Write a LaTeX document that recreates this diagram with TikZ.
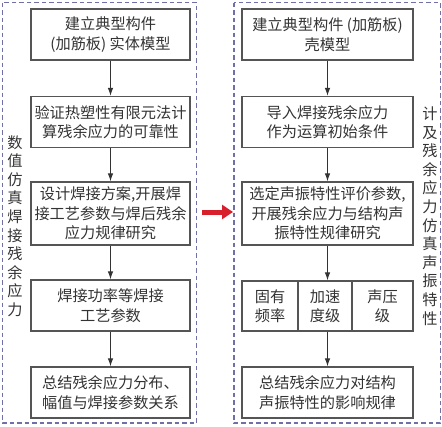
\documentclass[tikz,border=0pt]{standalone}
\usepackage{fontspec}
\setmainfont{Noto Sans CJK SC}
\usetikzlibrary{arrows.meta}
\definecolor{boxline}{HTML}{555555}
\definecolor{txt}{HTML}{333333}
\definecolor{dashc}{HTML}{7070A8}
\definecolor{redarr}{HTML}{D8202C}
\tikzset{
  stepbox/.style={draw=boxline, line width=1.2pt, text=txt, align=center, inner sep=0pt,
    font=\fontsize{15.2}{19.5}\selectfont, minimum height=51pt},
  lbox/.style={stepbox, minimum width=159pt},
  rbox/.style={stepbox, minimum width=171pt},
  flow/.style={draw=txt, line width=1pt, -{Latex[length=8pt,width=5.5pt]}},
  outer/.style={draw=dashc, line width=1.2pt, dash pattern=on 4.5pt off 3pt},
  vlabel/.style={text=txt, align=center, inner sep=0pt, font=\fontsize{15.2}{18.6}\selectfont}
}
\begin{document}
\begin{tikzpicture}[x=1pt,y=-1pt]
\useasboundingbox (0,0) rectangle (442,426);
% outer dashed frames
\draw[outer] (2.5,2.5) rectangle (196.5,423);
\draw[outer] (234,2.5) rectangle (440.5,423);
% left column
\node[lbox] (L1) at (110.5,34.5) {建立典型构件\\(加筋板) 实体模型};
\node[lbox] (L2) at (110.5,122) {验证热塑性有限元法计\\算残余应力的可靠性};
\node[lbox, minimum height=63pt] (L3) at (110.5,213.5) {设计焊接方案,开展焊\\接工艺参数与焊后残余\\应力规律研究};
\node[lbox] (L4) at (110.5,305.5) {焊接功率等焊接\\工艺参数};
\node[lbox] (L5) at (110.5,392.5) {总结残余应力分布、\\幅值与焊接参数关系};
\draw[flow] (L1) -- (L2);
\draw[flow] (L2) -- (L3);
\draw[flow] (L3) -- (L4);
\draw[flow] (L4) -- (L5);
\node[vlabel] (LL) at (15,226) {数\\值\\仿\\真\\焊\\接\\残\\余\\应\\力};
% right column
\node[rbox] (R1) at (327.5,34.5) {建立典型构件 (加筋板)\\壳模型};
\node[rbox] (R2) at (327.5,122) {导入焊接残余应力\\作为运算初始条件};
\node[rbox, minimum height=63pt] (R3) at (327.5,213.5) {选定声振特性评价参数,\\开展残余应力与结构声\\振特性规律研究};
\node[stepbox, minimum width=56pt, minimum height=50pt] (R4a) at (270,306) {固有\\频率};
\node[stepbox, minimum width=54pt, minimum height=50pt] (R4b) at (325,306) {加速\\度级};
\node[stepbox, minimum width=61pt, minimum height=50pt] (R4c) at (382.5,306) {声压\\级};
\node[rbox] (R5) at (327.5,392.5) {总结残余应力对结构\\声振特性的影响规律};
\draw[flow] (R1) -- (R2);
\draw[flow] (R2) -- (R3);
\draw[flow] (R3.south) -- (R3.south |- R4b.north);
\draw[flow] (R5.north |- R4b.south) -- (R5.north);
\node[vlabel] (RL) at (430,216) {计\\及\\残\\余\\应\\力\\仿\\真\\声\\振\\特\\性};
% red arrow between frames
\coordinate (A1) at (202,212);
\coordinate (A2) at (233,212);
\draw[redarr, line width=5pt, -{Triangle[length=11pt,width=14pt]}] (A1) -- (A2);
\end{tikzpicture}
\end{document}
